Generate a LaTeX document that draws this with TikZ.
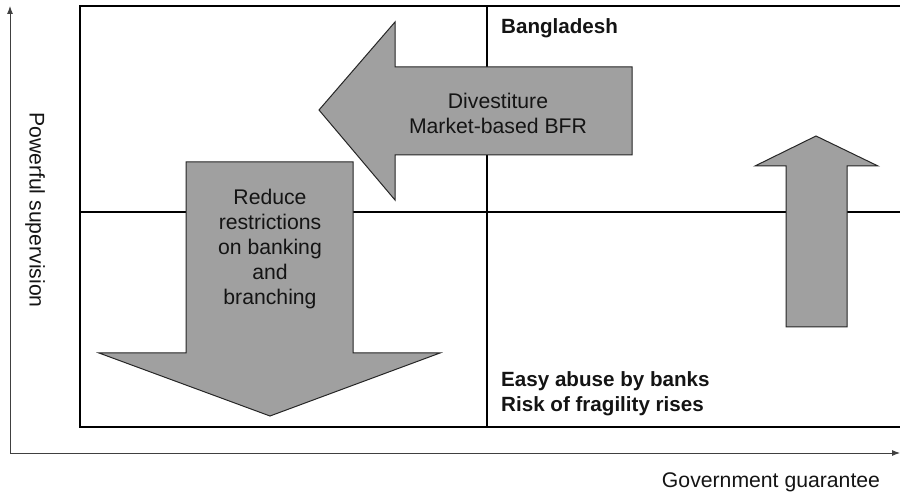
\documentclass[tikz,border=0pt]{standalone}
\usepackage{fontspec}
\setmainfont{Liberation Sans}
\usetikzlibrary{arrows.meta}
\definecolor{arrowgray}{RGB}{160,160,160}
\definecolor{inkcol}{RGB}{20,20,20}
\begin{document}
\begin{tikzpicture}[x=1pt,y=-1pt,
  frame/.style={line width=1.8pt,draw=black},
  axisline/.style={line width=0.9pt,draw=black!75,-{Latex[length=8pt,width=6pt]}},
  bigarrow/.style={fill=arrowgray,draw=black!85,line width=1pt,line join=miter},
  lbl/.style={font=\fontsize{21.2}{25}\selectfont,text=inkcol,inner sep=0pt,align=center},
  blbl/.style={font=\fontsize{20.6}{25}\selectfont\bfseries,text=inkcol,inner sep=0pt}]
\useasboundingbox (0,0) rectangle (900,494);
\clip (0,0) rectangle (900,494);
% quadrant frame
\draw[frame] (903,6) -- (80,6) -- (80,427) -- (903,427);
\draw[frame] (80,212) -- (903,212);
\draw[frame] (487,6) -- (487,427);
% axes
\coordinate (origin) at (10,453);
\coordinate (ytip) at (10,6);
\coordinate (xtip) at (900,453);
\draw[axisline] (origin) -- (ytip);
\draw[axisline] (origin) -- (xtip);
% down arrow
\draw[bigarrow] (186,162) -- (353,162) -- (353,353) -- (440,353) -- (270,416)
  -- (99,353) -- (186,353) -- cycle;
% left arrow
\draw[bigarrow] (632,67) -- (395,67) -- (395,22) -- (319,110) -- (395,200)
  -- (395,155) -- (632,155) -- cycle;
% up arrow
\draw[bigarrow] (786,327) -- (786,166) -- (755,166) -- (816,136) -- (878,166)
  -- (847,166) -- (847,327) -- cycle;
% texts
\node[lbl] (reduce) at (270,249) {Reduce\\restrictions\\on banking\\and\\branching};
\node[lbl] (divest) at (498,113) {Divestiture\\Market-based BFR};
\node[blbl,anchor=base west] (bangla) at (501,34) {Bangladesh};
\node[blbl,anchor=base west] (easy) at (501,386) {Easy abuse by banks};
\node[blbl,anchor=base west] (risk) at (501,411) {Risk of fragility rises};
\node[lbl,anchor=base] (xlabel) at (771,487) {Government guarantee};
\node[lbl,rotate=-90] (ylabel) at (35,210) {Powerful supervision};
\end{tikzpicture}
\end{document}
